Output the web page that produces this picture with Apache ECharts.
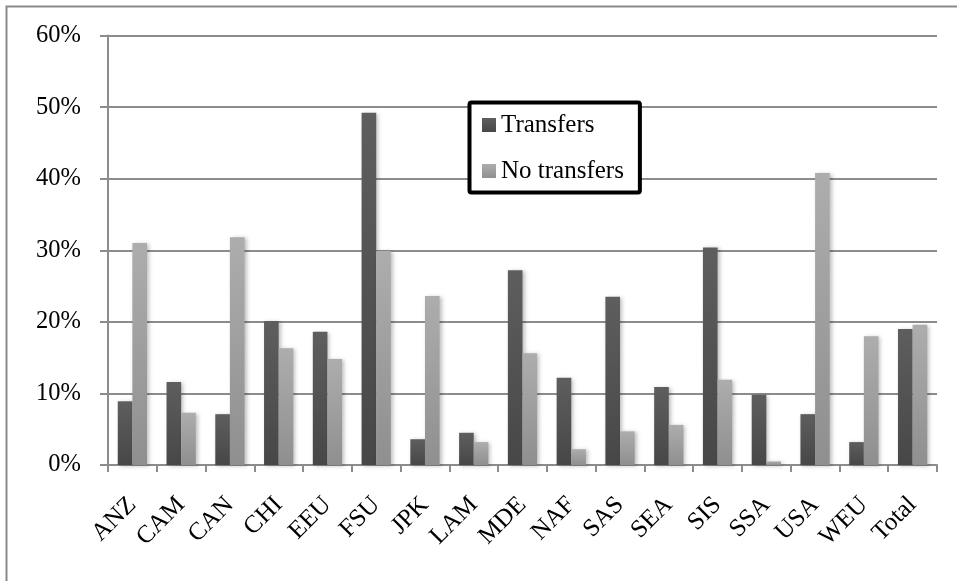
<!DOCTYPE html>
<html>
<head>
<meta charset="utf-8">
<script src="https://cdn.jsdelivr.net/npm/echarts@6/dist/echarts.min.js"></script>
<style>
  html, body { margin: 0; padding: 0; background: #fff; }
  #chart { width: 957px; height: 581px; }
</style>
</head>
<body>
<div id="chart"></div>
<script>
const regions = ['ANZ', 'CAM', 'CAN', 'CHI', 'EEU', 'FSU', 'JPK', 'LAM', 'MDE', 'NAF', 'SAS', 'SEA', 'SIS', 'SSA', 'USA', 'WEU', 'Total']
const transfers = [8.9, 11.6, 7.1, 20.1, 18.6, 49.2, 3.6, 4.5, 27.2, 12.2, 23.5, 10.9, 30.4, 9.8, 7.1, 3.2, 19.0]
const noTransfers = [31.0, 7.3, 31.8, 16.3, 14.8, 29.9, 23.6, 3.2, 15.6, 2.2, 4.7, 5.6, 11.9, 0.5, 40.8, 18.0, 19.6]
const yTicks = [0, 10, 20, 30, 40, 50, 60]

const FONT = '"Liberation Serif", "DejaVu Serif", serif'

function grad(top, bottom) {
  return new echarts.graphic.LinearGradient(0, 0, 0, 1, [
    { offset: 0, color: top },
    { offset: 1, color: bottom },
  ])
}

const chart = echarts.init(document.getElementById('chart'))

const barShadow = {
  shadowBlur: 4,
  shadowOffsetX: 2,
  shadowOffsetY: 1,
  shadowColor: 'rgba(0,0,0,0.25)',
}

chart.setOption({
  animation: false,
  textStyle: { fontFamily: FONT },
  grid: { left: 108, right: 20, top: 35.5, bottom: 116, containLabel: false },
  graphic: [
    {
      type: 'rect',
      shape: { x: 6.5, y: 6.5, width: 960, height: 600 },
      style: { fill: 'none', stroke: '#8a8a8a', lineWidth: 2 },
      silent: true,
      z: -1,
    },
  ],
  legend: {
    orient: 'vertical',
    left: 469.5,
    top: 102.5,
    backgroundColor: '#fff',
    borderColor: '#000',
    borderWidth: 4,
    borderRadius: 2,
    padding: [8.5, 16, 7.5, 12.5],
    itemGap: 18,
    itemWidth: 14,
    itemHeight: 14,
    icon: 'rect',
    textStyle: { fontFamily: FONT, fontSize: 25, lineHeight: 28, color: '#000' },
    data: ['Transfers', 'No transfers'],
  },
  xAxis: {
    type: 'category',
    data: regions,
    axisLine: { lineStyle: { color: '#8c8c8c', width: 2 } },
    axisTick: { show: true, length: 7, alignWithLabel: false, lineStyle: { color: '#8c8c8c', width: 2 } },
    axisLabel: {
      rotate: 45,
      margin: 36,
      interval: 0,
      fontFamily: FONT,
      fontSize: 25,
      color: '#000',
    },
  },
  yAxis: {
    type: 'value',
    min: yTicks[0],
    max: yTicks[yTicks.length - 1],
    interval: 10,
    axisLine: { show: true, lineStyle: { color: '#8c8c8c', width: 2 } },
    axisTick: { show: true, length: 8, inside: false, lineStyle: { color: '#8c8c8c', width: 2 } },
    axisLabel: {
      formatter: '{value}%',
      margin: 27,
      fontFamily: FONT,
      fontSize: 24.5,
      color: '#000',
    },
    splitLine: { lineStyle: { color: '#8c8c8c', width: 2 } },
  },
  series: [
    {
      name: 'Transfers',
      type: 'bar',
      data: transfers,
      barGap: '0%',
      barCategoryGap: '40%',
      itemStyle: { color: grad('#5e5e5e', '#474747'), ...barShadow },
    },
    {
      name: 'No transfers',
      type: 'bar',
      data: noTransfers,
      itemStyle: { color: grad('#adadad', '#8f8f8f'), ...barShadow },
    },
  ],
})
</script>
</body>
</html>
